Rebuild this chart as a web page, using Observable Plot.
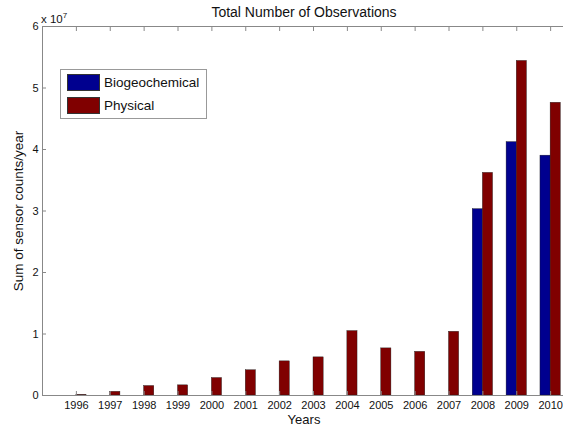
<!DOCTYPE html>
<html>
<head>
<meta charset="utf-8">
<script src="https://cdn.jsdelivr.net/npm/d3@7"></script>
<script src="https://cdn.jsdelivr.net/npm/@observablehq/plot@0.6"></script>
<style>
  html, body { margin: 0; padding: 0; background: white; }
  #wrap { position: relative; width: 563px; height: 429px; overflow: hidden; font-family: "Liberation Sans", Arial, sans-serif; color: #111; }
  #wrap svg { position: absolute; left: 0; top: 0; }
  .title { position: absolute; left: 0; width: 608px; top: 4px; text-align: center; font-size: 14px; }
  .xlab { position: absolute; left: 0; width: 608px; top: 412px; text-align: center; font-size: 13px; }
  .ylab { position: absolute; left: 18px; top: 211px; transform: translate(-50%, -50%) rotate(-90deg); font-size: 13.5px; white-space: nowrap; }
  .expo { position: absolute; left: 41px; top: 11px; font-size: 11.5px; }
  .expo sup { font-size: 8px; vertical-align: 5px; }
  .legend { position: absolute; left: 60px; top: 69px; width: 147px; height: 50px; border: 1px solid #999; background: white; box-sizing: border-box; }
  .legend .item { position: absolute; left: 6px; height: 17px; display: flex; align-items: center; font-size: 13.5px; }
  .legend .sw { width: 33px; height: 17px; margin-right: 4px; box-sizing: border-box; border: 0.5px solid #333; }
</style>
</head>
<body>
<div id="wrap"></div>
<script>
const years = [1996, 1997, 1998, 1999, 2000, 2001, 2002, 2003, 2004, 2005, 2006, 2007, 2008, 2009, 2010];
const biogeochemical = [0, 0, 0, 0, 0, 0, 0, 0, 0, 0, 0, 0, 3.03e7, 4.12e7, 3.90e7];
const physical = [0.01e7, 0.06e7, 0.154e7, 0.165e7, 0.284e7, 0.41e7, 0.555e7, 0.62e7, 1.047e7, 0.766e7, 0.71e7, 1.036e7, 3.62e7, 5.44e7, 4.76e7];
const seriesNames = ["Biogeochemical", "Physical"];
const seriesColors = ["#00008F", "#800000"];
const yTickValues = [0, 1e7, 2e7, 3e7, 4e7, 5e7, 6e7];
const yTickLabels = ["0", "1", "2", "3", "4", "5", "6"];
const titleText = "Total Number of Observations";
const xLabel = "Years";
const yLabel = "Sum of sensor counts/year";

const rows = [];
years.forEach((yr, i) => {
  rows.push({year: yr, series: seriesNames[0], value: biogeochemical[i], k: 0});
  rows.push({year: yr, series: seriesNames[1], value: physical[i], k: 1});
});
const barW = 0.3;

const chart = Plot.plot({
  width: 563,
  height: 429,
  marginTop: 26,
  marginBottom: 34,
  marginLeft: 42,
  marginRight: -21,
  style: {fontFamily: "'Liberation Sans', Arial, sans-serif", fontSize: "11px", color: "#111", background: "transparent"},
  x: {type: "linear", domain: [1995, 2011]},
  y: {domain: [0, 6e7]},
  color: {domain: seriesNames, range: seriesColors},
  marks: [
    Plot.rect(rows.filter(d => d.value > 0), {
      x1: d => d.year - barW + d.k * barW,
      x2: d => d.year + d.k * barW,
      y1: 0,
      y2: "value",
      fill: "series",
      stroke: "#1a1a1a",
      strokeWidth: 0.4
    }),
    Plot.frame({stroke: "#888"}),
    Plot.axisX({anchor: "bottom", ticks: years, tickFormat: d => String(d), tickSize: -4, tickPadding: 10, label: null, stroke: "#888", fill: "#111", fontSize: 11}),
    Plot.axisX({anchor: "top", ticks: years, tickFormat: () => "", tickSize: -4, label: null, stroke: "#888"}),
    Plot.axisY({anchor: "left", ticks: yTickValues, tickFormat: d => yTickLabels[yTickValues.indexOf(d)], tickSize: -4, tickPadding: 8, label: null, stroke: "#888", fill: "#111", fontSize: 11}),
    Plot.axisY({anchor: "right", ticks: yTickValues, tickFormat: () => "", tickSize: -4, label: null, stroke: "#888"})
  ]
});

const wrap = document.getElementById("wrap");
wrap.appendChild(chart);

function addDiv(cls, html) {
  const d = document.createElement("div");
  d.className = cls;
  d.innerHTML = html;
  wrap.appendChild(d);
  return d;
}
addDiv("title", titleText);
addDiv("xlab", xLabel);
addDiv("ylab", yLabel);
addDiv("expo", "x 10<sup>7</sup>");
const legend = addDiv("legend", "");
seriesNames.forEach((name, i) => {
  const item = document.createElement("div");
  item.className = "item";
  item.style.top = (4 + i * 23) + "px";
  item.innerHTML = `<span class="sw" style="background:${seriesColors[i]}"></span><span>${name}</span>`;
  legend.appendChild(item);
});
</script>
</body>
</html>
